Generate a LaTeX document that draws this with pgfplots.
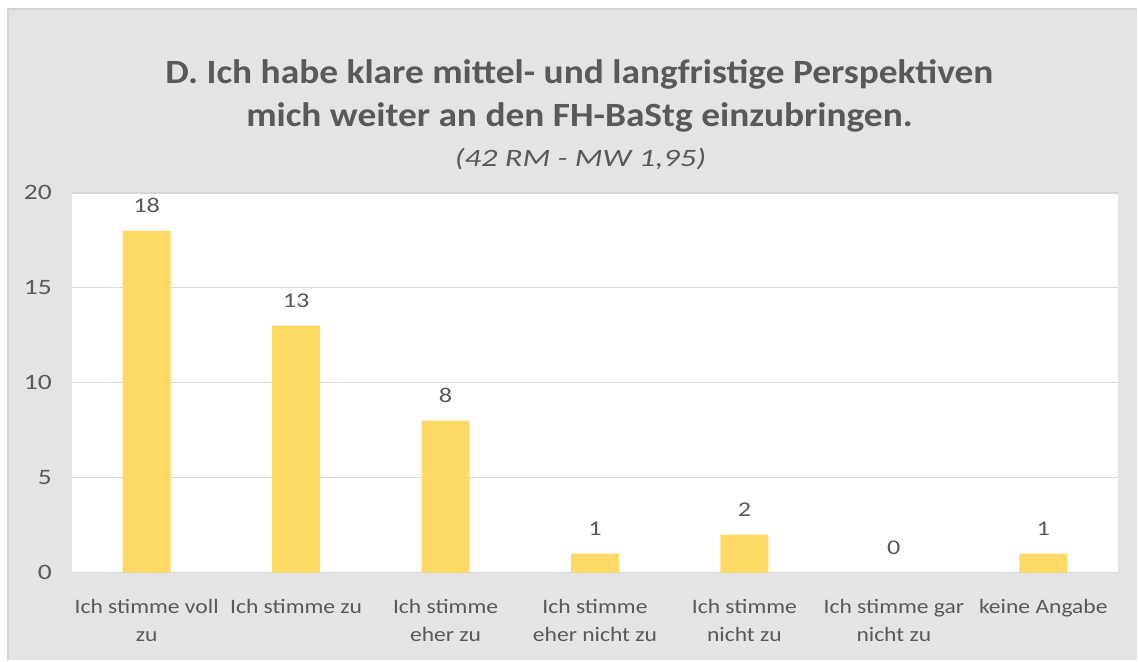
\documentclass[border=0pt]{standalone}
\usepackage{fontspec}
\setmainfont{Carlito}
\newfontfamily\titlefont[FakeStretch=1.1]{Carlito}
\newfontfamily\subfont[FakeStretch=1.3]{Carlito}
\newfontfamily\labfont[FakeStretch=1.15]{Carlito}
\newfontfamily\numfont[FakeStretch=1.25]{Carlito}
\usepackage{pgfplots}
\pgfplotsset{compat=1.18}
\definecolor{bggrey}{HTML}{E4E4E4}
\definecolor{bordergrey}{HTML}{D4D4D4}
\definecolor{txtgrey}{HTML}{595959}
\definecolor{gridgrey}{HTML}{D9D9D9}
\definecolor{barcol}{HTML}{FFD966}
\begin{document}
\begin{tikzpicture}[x=1pt,y=1pt]
\fill[white] (0,0) rectangle (1138,661);
\fill[bggrey] (7,0) rectangle (1138,653);
\draw[bordergrey, line width=2pt] (8,0) -- (8,652) -- (1138,652);
\node[font=\titlefont\fontsize{34}{43}\selectfont\bfseries, text=txtgrey, anchor=base, inner sep=0] at (580,577) {D. Ich habe klare mittel- und langfristige Perspektiven};
\node[font=\titlefont\fontsize{34}{43}\selectfont\bfseries, text=txtgrey, anchor=base, inner sep=0] at (580,534) {mich weiter an den FH-BaStg einzubringen.};
\node[font=\subfont\fontsize{25}{30}\selectfont\itshape, text=txtgrey, anchor=base, inner sep=0] at (581,494) {(42 RM - MW 1,95)};
\begin{axis}[
  at={(72pt,88pt)}, anchor=south west,
  scale only axis, width=1047pt, height=380pt,
  xmin=-0.5, xmax=6.5, ymin=0, ymax=20,
  ytick={0,5,10,15,20},
  xtick={0,...,6},
  xticklabels={Ich stimme voll\\zu, Ich stimme zu, Ich stimme\\eher zu, Ich stimme\\eher nicht zu, Ich stimme\\nicht zu, Ich stimme gar\\nicht zu, keine Angabe},
  axis line style={draw=none},
  ymajorgrids,
  grid style={gridgrey, line width=1.5pt},
  major tick length=0pt,
  axis background/.style={fill=white},
  ybar, bar width=48pt,
  /pgf/number format/assume math mode=true,
  yticklabel style={font=\numfont\fontsize{22}{24}\selectfont, text=txtgrey, inner sep=0pt, xshift=-20pt},
  xticklabel style={font=\labfont\fontsize{20.5}{28}\selectfont, text=txtgrey, align=center, inner sep=0pt, anchor=north, yshift=-27pt},
  nodes near coords,
  every node near coord/.append style={font=\numfont\fontsize{21}{24}\selectfont, text=txtgrey, anchor=base, inner sep=0pt, yshift=18pt},
  clip=false,
]
\addplot[fill=barcol, draw=none] coordinates {(0,18) (1,13) (2,8) (3,1) (4,2) (5,0) (6,1)};
\end{axis}
\end{tikzpicture}
\end{document}
